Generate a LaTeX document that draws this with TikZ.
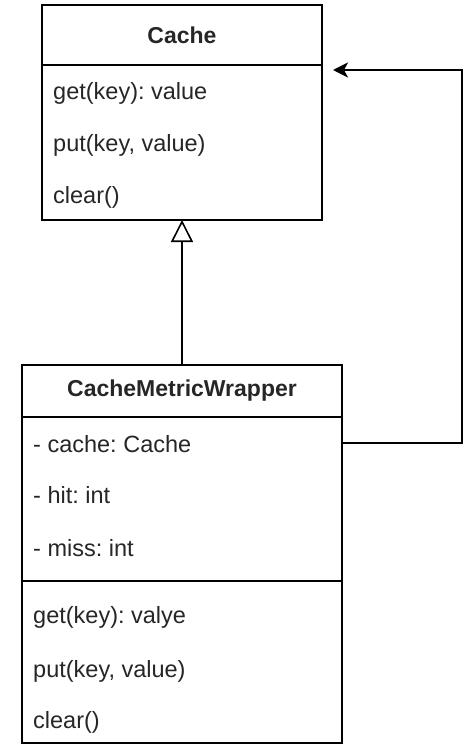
\documentclass[tikz,border=0pt]{standalone}
\usepackage{fontspec}
\setmainfont{Liberation Sans}
\usetikzlibrary{arrows.meta}
\frenchspacing
\begin{document}
\begin{tikzpicture}[x=1pt,y=-1pt,
  box/.style={draw, line width=1.6pt, anchor=north west, inner sep=0pt, outer sep=0pt},
  title/.style={font=\fontsize{23}{28}\selectfont\bfseries, text=black!85},
  field/.style={anchor=west, inner sep=0pt, text height=17pt, text depth=5pt,
    font=\fontsize{23.5}{28}\selectfont, text=black!85},
  inherit/.style={draw, line width=1.6pt, -{Triangle[open, length=22pt, width=22pt, fill=white]}},
  assoc/.style={draw, line width=1.6pt, -{Stealth[length=15pt, width=15pt, inset=4pt]}}]
\useasboundingbox (0,0) rectangle (464,746);

\node[box, title, minimum width=280pt, minimum height=60pt] (cachehead) at (42,5) {Cache};
\node[box, minimum width=280pt, minimum height=155pt] (cachebody) at (cachehead.south west) {};
\node[field] (cacheget) at (53,94) {get(key): value};
\node[field] (cacheput) at (53,146) {put(key, value)};
\node[field] (cacheclear) at (53,198) {clear()};

\node[box, title, minimum width=320pt, minimum height=52pt] (wraphead) at (22,365) {CacheMetricWrapper};
\node[box, minimum width=320pt, minimum height=164pt] (wrapattr) at (wraphead.south west) {};
\node[box, minimum width=320pt, minimum height=162pt] (wrapmeth) at (wrapattr.south west) {};
\node[field] (wcache) at (33,446) {- cache: Cache};
\node[field] (whit) at (33,497) {- hit: int};
\node[field] (wmiss) at (33,550) {- miss: int};
\node[field] (wget) at (33,617) {get(key): valye};
\node[field] (wput) at (33,671) {put(key, value)};
\node[field] (wclear) at (33,722) {clear()};

\coordinate (turn) at (462,70);
\coordinate (tip) at (333,70);
\path[inherit] (wraphead.north) -- (cachebody.south);
\path[assoc] (wrapattr.east |- 0,443) -| (turn) -- (tip);
\end{tikzpicture}
\end{document}
